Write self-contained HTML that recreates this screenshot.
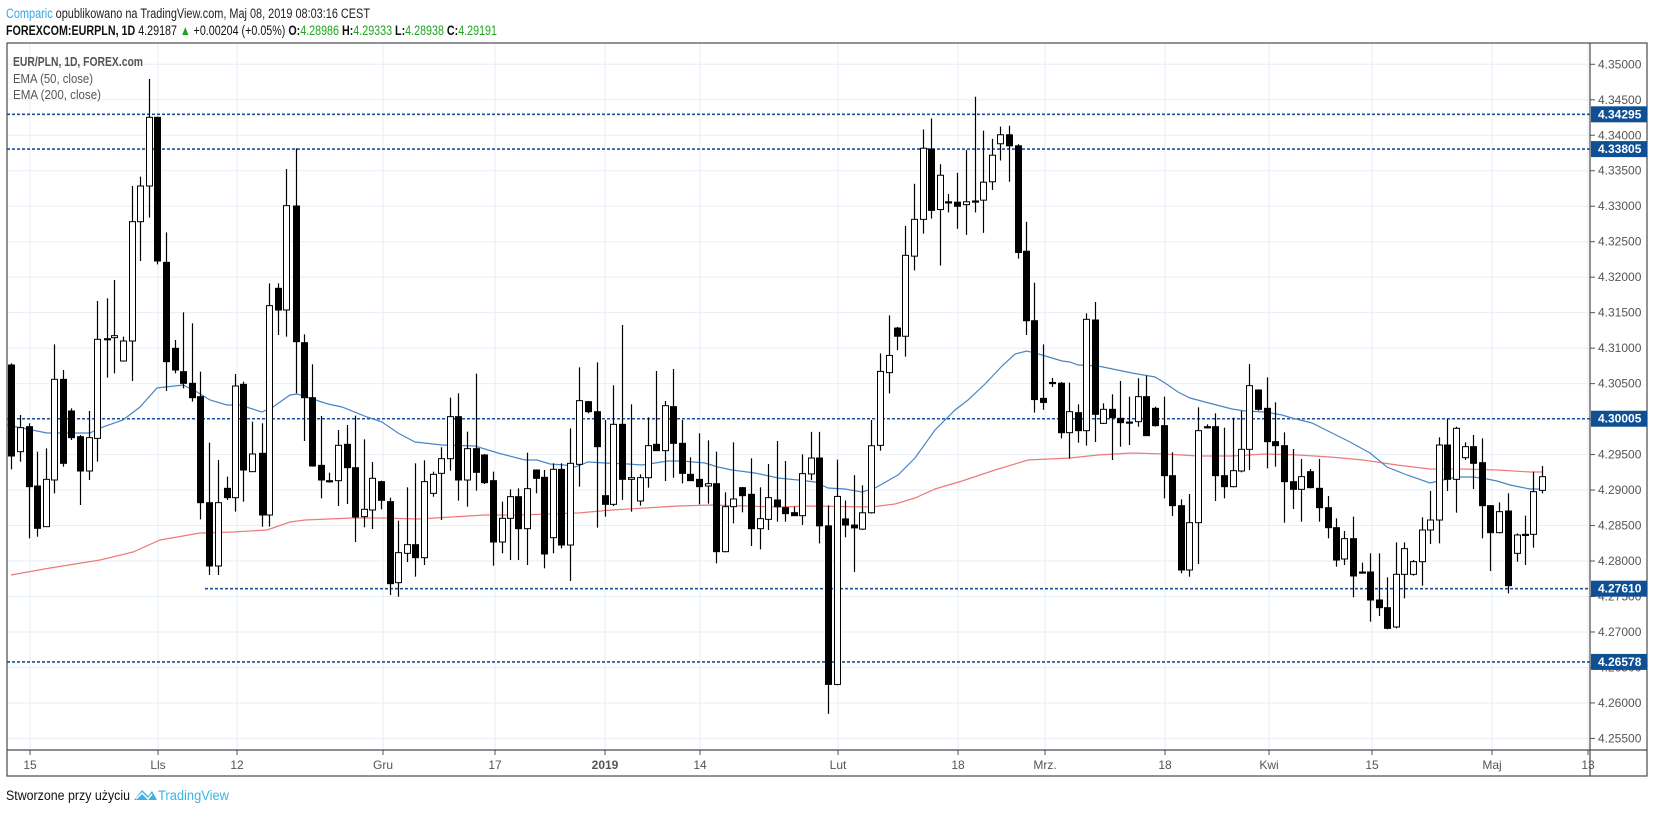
<!DOCTYPE html>
<html><head><meta charset="utf-8"><style>
html,body{margin:0;padding:0;background:#fff;}
svg{display:block;font-family:"Liberation Sans",sans-serif;}
</style></head><body>
<svg id="s" width="1653" height="813" viewBox="0 0 1653 813" xmlns="http://www.w3.org/2000/svg">
<rect width="1653" height="813" fill="#fff"/>
<g id="grid"></g>
<g id="lvl"></g>
<g id="ema"></g>
<g id="cd"></g>
<g id="axis"></g>
<text x="6" y="18" font-size="13.5" textLength="364" lengthAdjust="spacingAndGlyphs"><tspan fill="#3ba3e0">Comparic</tspan><tspan fill="#222"> opublikowano na TradingView.com, Maj 08, 2019 08:03:16 CEST</tspan></text>
<text x="6" y="35" font-size="13.5" textLength="491" lengthAdjust="spacingAndGlyphs" fill="#111"><tspan font-weight="bold">FOREXCOM:EURPLN, 1D</tspan> 4.29187 <tspan fill="#1fa51f">▲</tspan> +0.00204 (+0.05%) <tspan font-weight="bold">O:</tspan><tspan fill="#1fa51f">4.28986</tspan> <tspan font-weight="bold">H:</tspan><tspan fill="#1fa51f">4.29333</tspan> <tspan font-weight="bold">L:</tspan><tspan fill="#1fa51f">4.28938</tspan> <tspan font-weight="bold">C:</tspan><tspan fill="#1fa51f">4.29191</tspan></text>
<text x="13" y="66" font-size="13" fill="#555" font-weight="bold" textLength="130" lengthAdjust="spacingAndGlyphs">EUR/PLN, 1D, FOREX.com</text>
<text x="13" y="83" font-size="13" fill="#555" textLength="80" lengthAdjust="spacingAndGlyphs">EMA (50, close)</text>
<text x="13" y="99" font-size="13" fill="#555" textLength="88" lengthAdjust="spacingAndGlyphs">EMA (200, close)</text>
<text x="6" y="800" font-size="13.5" fill="#111" textLength="124" lengthAdjust="spacingAndGlyphs">Stworzone przy użyciu</text>
<path d="M134 800 L142 790 L148 796 L152 791 L157 800 Z" fill="#3bb3e4"/>
<path d="M136 799 L142 793 L148 799 L152 794" fill="none" stroke="#fff" stroke-width="1.5"/>
<text x="158" y="800" font-size="13.5" fill="#3bb3e4" textLength="71" lengthAdjust="spacingAndGlyphs">TradingView</text>
</svg>
<script>
var NS="http://www.w3.org/2000/svg";
function el(p,t,a){var e=document.createElementNS(NS,t);for(var k in a)e.setAttribute(k,a[k]);p.appendChild(e);return e;}
function Y(p){return 64.3+(4.35-p)/0.005*35.48;}
var L=7,R=1590,T=43,B=750;
var g=document.getElementById('grid'),ax=document.getElementById('axis');
var vx=[30,158,237,383,495,605,700,838,958,1045,1165,1269,1372,1492,1588];
var vl=["15","Lls","12","Gru","17","2019","14","Lut","18","Mrz.","18","Kwi","15","Maj","13"];
vx.forEach(function(x){el(g,'line',{x1:x,x2:x,y1:T,y2:B,stroke:'#e6eef7','stroke-width':1});});
for(var i=0;i<=19;i++){var p=4.255+i*0.005,y=Y(p);el(g,'line',{x1:L,x2:R,y1:y,y2:y,stroke:'#e6eef7','stroke-width':1});
 el(ax,'line',{x1:R,x2:R+5,y1:y,y2:y,stroke:'#555'});
 var t=el(ax,'text',{x:R+8,y:y+4,'font-size':12,fill:'#555'});t.textContent=p.toFixed(5);}
vx.forEach(function(x,i){el(ax,'line',{x1:x,x2:x,y1:B,y2:B+5,stroke:'#555'});
 var t=el(ax,'text',{x:x,y:769,'font-size':12,fill:'#555','text-anchor':'middle',font_weight:(i==5?'bold':'normal')});
 if(i==5)t.setAttribute('font-weight','bold');t.textContent=vl[i];});
el(ax,'rect',{x:L,y:T,width:1647-L,height:776-T,fill:'none',stroke:'#4a4a4a','stroke-width':1.2});
el(ax,'line',{x1:R,x2:R,y1:T,y2:776,stroke:'#4a4a4a','stroke-width':1.2});
el(ax,'line',{x1:L,x2:1647,y1:B,y2:B,stroke:'#4a4a4a','stroke-width':1.2});
// levels
var lv=document.getElementById('lvl');
[[4.34295,L],[4.33805,L],[4.30005,L],[4.27610,205],[4.26578,L]].forEach(function(a){var y=Y(a[0]);
 el(lv,'line',{x1:a[1],x2:R,y1:y,y2:y,stroke:'#1b4f9c','stroke-width':1.6,'stroke-dasharray':'3,2'});
 el(ax,'rect',{x:R+1,y:y-8,width:56,height:16,fill:'#0f4f94'});
 var t=el(ax,'text',{x:R+8,y:y+4,'font-size':12,fill:'#fff','font-weight':'bold'});t.textContent=a[0].toFixed(5);});
// EMAs
var e50=[[7,425],[47,433],[90,433],[100,428],[123,420],[140,407],[157,388],[183,385],[197,392],[210,400],[227,405],[240,405],[262,412],[273,407],[290,395],[297,394],[328,404],[342,407],[367,417],[382,422],[398,433],[415,442],[442,445],[475,446],[498,453],[525,460],[537,460],[550,464],[565,465],[575,467],[588,462],[605,463],[628,464],[642,465],[655,463],[668,461],[682,461],[705,463],[718,467],[732,470],[755,473],[778,478],[798,480],[815,482],[828,488],[845,489],[862,492],[875,488],[898,475],[915,458],[935,430],[955,410],[968,400],[985,384],[1002,366],[1015,354],[1027,351],[1042,355],[1062,361],[1070,362],[1078,365],[1098,366],[1132,373],[1155,377],[1165,383],[1178,392],[1190,398],[1205,402],[1232,409],[1245,411],[1265,412],[1282,415],[1292,418],[1312,423],[1330,432],[1350,442],[1370,453],[1387,467],[1407,475],[1430,483],[1443,480],[1457,477],[1473,477],[1487,479],[1497,481],[1510,485],[1530,489],[1543,489]];
var e200=[[11,575],[50,568],[100,560],[133,552],[160,540],[200,533],[233,532],[267,530],[290,522],[305,520],[352,518],[385,518],[418,519],[452,517],[485,515],[518,515],[550,514],[578,513],[612,510],[645,508],[678,506],[712,505],[745,506],[778,507],[810,506],[872,507],[895,504],[915,498],[935,489],[962,481],[995,470],[1028,460],[1070,458],[1098,455],[1132,453],[1165,454],[1198,456],[1232,456],[1265,454],[1298,455],[1330,457],[1363,460],[1397,465],[1430,469],[1463,469],[1497,470],[1530,472],[1543,472]];
var eg=document.getElementById('ema');
el(eg,'polyline',{points:e200.join(' '),fill:'none',stroke:'#f07a7a','stroke-width':1.2});
el(eg,'polyline',{points:e50.join(' '),fill:'none',stroke:'#4a85c4','stroke-width':1.2});
// candles [zx,O,C,H,L] in crop coords
var crops=[
{ox:0,oy:60,sx:3,sy:3,d:[[33,915,1188,910,1228],[61,1175,1103,1065,1205],[86,1100,1280,1090,1435],[112,1278,1405,1175,1430],[139,1400,1258,1165,1400],[163,1260,958,853,1300],[190,958,1210,930,1220],[213,1053,1133,1045,1140],[241,1130,1233,1125,1335],[268,1233,1133,1053,1260],[291,1135,838,723,1205],[320,836,838,715,953],[343,833,827,660,940],[369,903,843,830,905],[397,843,485,378,963],[421,485,378,350,603],[448,378,172,57,473],[472,172,603,170,613],[498,607,905,517,993],[526,865,930,840,940],[550,935,970,757,985],[577,970,1013,790,1025],[601,1010,1328,935,1378],[628,1328,1518,1148,1545],[655,1518,1328,1200,1545],[680,1285,1313,1250,1320],[706,1313,978,942,1355],[730,973,1230,965,1325],[757,1235,1182,1085,1235],[785,1180,1365,1090,1400],[808,1365,737,670,1400],[835,685,750,670,825],[858,750,437,327,830]]},
{ox:285,oy:130,sx:3,sy:3,d:[[32,228,635,55,790],[58,638,803,613,933],[82,803,1008,703,1010],[109,1006,1050,858,1105],[133,1052,1053,1028,1058],[159,1052,946,900,1128],[186,943,1013,885,1122],[211,1013,1161,857,1236],[238,1160,1138,928,1192],[262,1140,1045,996,1197],[289,1055,1111,1052,1138],[316,1115,1361,1103,1395],[340,1358,1268,1172,1400],[367,1270,1244,1072,1296],[391,1244,1283,1000,1340],[417,1283,1055,991,1305],[445,1090,1033,1025,1100],[469,1030,986,952,1170],[495,986,860,803,1022],[520,860,1050,790,1112],[547,1050,956,905,1130],[572,956,1027,731,1082],[598,975,1058,972,1062],[625,1052,1236,1025,1307],[650,1236,1165,1115,1270],[676,1165,1100,1078,1290],[700,1100,1196,1075,1290],[727,1196,1076,968,1305],[753,1020,1045,1018,1090],[778,1042,1272,1020,1315]]},
{ox:545,oy:300,sx:3,sy:3,d:[[25,713,508,490,760],[48,508,735,490,745],[76,735,490,385,843],[103,493,302,202,560],[128,305,335,303,340],[155,335,440,187,683],[179,587,613,360,650],[205,613,373,256,618],[232,373,538,75,600],[257,538,533,313,635],[284,603,533,523,617],[308,533,437,352,563],[334,433,452,213,453],[361,452,317,303,543],[385,320,430,207,533],[411,430,520,360,550],[436,523,542,472,543],[463,538,560,400,613],[490,558,551,421,611],[514,551,755,455,790],[541,755,620,577,757],[565,620,597,427,670],[592,563,587,561,637],[619,583,686,475,738],[644,686,656,562,748],[670,658,593,492,690],[695,600,620,423,665],[720,623,641,483,665],[748,638,647,620,648],[772,647,521,463,675]]},
{ox:795,oy:79.6,sx:3,sy:2.447,d:[[48,965,926,862,980],[73,926,1092,862,1135],[100,1092,1480,1042,1552],[127,1480,1020,930,1482],[151,1075,1090,1030,1120],[178,1090,1097,968,1205],[202,1100,1060,993,1102],[229,1060,896,833,1062],[256,895,714,670,908],[281,717,675,577,768],[307,608,628,605,662],[331,628,430,358,678],[358,432,342,255,467],[384,342,168,122,377],[408,170,320,95,340],[436,318,234,207,455],[460,299,300,280,325],[487,300,310,228,365],[514,306,299,172,380],[539,297,298,42,325],[565,295,251,125,375],[590,250,185,145,270],[616,157,135,115,198],[643,135,162,113,250],[668,162,423,158,438],[694,420,590,348,625],[718,590,783,497,815],[745,780,790,648,808],[771,741,742,730,752],[797,743,864,740,878]]},
{ox:1065,oy:290,sx:3,sy:3,d:[[12,428,365,278,506],[38,368,422,343,458],[64,422,88,70,467],[91,90,373,36,456],[115,400,358,340,402],[142,358,383,313,510],[166,385,398,273,470],[193,396,397,320,465],[219,395,320,265,410],[244,320,437,257,438],[271,355,407,350,410],[296,407,557,320,625],[322,557,647,487,678],[349,647,840,628,850],[373,840,698,612,860],[400,698,422,352,822],[425,410,411,403,415],[451,410,557,370,633],[478,557,590,413,625],[503,590,542,383,592],[529,543,478,363,547],[553,478,287,222,540],[580,300,358,298,362],[606,355,455,262,535],[631,455,467,337,530],[658,467,575,427,698],[683,575,598,477,657],[709,598,560,507,695],[736,545,593,537,595],[761,595,653,507,695],[788,653,713,618,745]]},
{ox:1330,oy:380,sx:3,sy:3,d:[[18,443,540,415,560],[43,537,476,453,555],[70,476,588,410,652],[95,576,577,548,580],[121,576,660,520,725],[146,660,683,520,708],[172,683,745,592,748],[198,741,583,487,745],[223,583,506,487,655],[250,583,545,540,587],[275,545,450,412,617],[300,450,420,333,492],[327,420,195,172,490],[352,195,298,117,333],[379,298,145,140,398],[404,233,200,187,240],[430,200,250,165,327],[457,248,377,175,475],[481,377,458,375,573],[508,458,395,367,460],[533,393,617,340,640],[560,520,465,460,545],[585,463,464,407,555],[610,463,335,275,503],[636,331,290,258,340]]}
];
var cd=document.getElementById('cd');
crops.forEach(function(c){c.d.forEach(function(b){
 var x=Math.round(c.ox+b[0]/c.sx)+0.5,o=c.oy+b[1]/c.sy,cl=c.oy+b[2]/c.sy,h=c.oy+b[3]/c.sy,l=c.oy+b[4]/c.sy;
 var top=Math.min(o,cl),bot=Math.max(o,cl),white=cl<o;
 el(cd,'line',{x1:x,x2:x,y1:h,y2:l,stroke:'#000','stroke-width':1.2});
 var hh=Math.max(bot-top,1.2);
 el(cd,'rect',{x:x-3,y:top,width:6,height:hh,fill:white?'#fff':'#000',stroke:'#000','stroke-width':1});
});});
</script>
</body></html>
